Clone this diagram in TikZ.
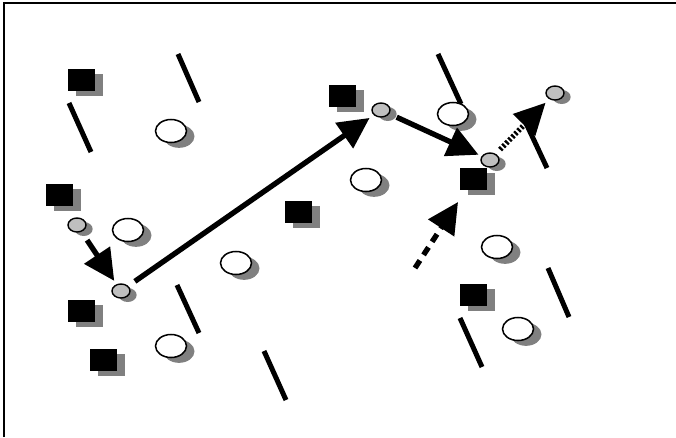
\documentclass[tikz,border=0pt]{standalone}
\usetikzlibrary{shapes.geometric,shadows,arrows.meta}
\begin{document}
\begin{tikzpicture}
		[x=0.03cm,y=-0.03cm,
		block/.style={rectangle,fill=black,inner sep=0pt,minimum width=0.81cm,minimum height=0.66cm,
			general shadow={fill=gray,shadow xshift=0.24cm,shadow yshift=-0.15cm}},
		place/.style={ellipse,draw=black,fill=white,line width=1.3pt,inner sep=0pt,minimum width=0.93cm,minimum height=0.69cm,
			general shadow={fill=gray,shadow xshift=0.24cm,shadow yshift=-0.16cm}},
		token/.style={ellipse,draw=black,fill=gray!50,line width=1.2pt,inner sep=0pt,minimum width=0.54cm,minimum height=0.42cm,
			general shadow={fill=gray,shadow xshift=0.2cm,shadow yshift=-0.12cm}},
		wall/.style={line width=0.15cm},
		move/.style={line width=0.16cm,-{Triangle[length=0.93cm,width=0.9cm]}}]
		\useasboundingbox (0,0) rectangle (676,437);
		\draw [line width=0.06cm] (4,437) -- (4,3) -- (676,3);

		\draw [wall] (178,54) -- (199,102);
		\draw [wall] (69,103) -- (91,152);
		\draw [wall] (438,54) -- (461,104);
		\draw [wall] (525,121) -- (547,168);
		\draw [wall] (177,285) -- (199,333);
		\draw [wall] (264,351) -- (286,400);
		\draw [wall] (548,268) -- (569,317);
		\draw [wall] (460,318) -- (482,367);

		\node [block] (s1) at (81,80) {};
		\node [block] (s2) at (59,195) {};
		\node [block] (s3) at (342,96) {};
		\node [block] (s4) at (298,212) {};
		\node [block] (s5) at (473,179) {};
		\node [block] (s6) at (81,311) {};
		\node [block] (s7) at (103,360) {};
		\node [block] (s8) at (473,295) {};

		\node [place] (o1) at (171,131) {};
		\node [place] (o2) at (128,230) {};
		\node [place] (o3) at (366,180) {};
		\node [place] (o4) at (453,114) {};
		\node [place] (o5) at (236,263) {};
		\node [place] (o6) at (171,346) {};
		\node [place] (o7) at (497,247) {};
		\node [place] (o8) at (518,329) {};

		\node [token] (p1) at (77,225) {};
		\node [token] (p2) at (121,291) {};
		\node [token] (p3) at (381,110) {};
		\node [token] (p4) at (490,160) {};
		\node [token] (p5) at (555,93) {};
		\coordinate (e0) at (415,268);

		\draw [move,shorten <=0.3cm,shorten >=0.12cm] (p1) -- (p2);
		\draw [move,shorten <=0.24cm,shorten >=0.15cm] (p2) -- (p3);
		\draw [move,shorten <=0.24cm,shorten >=0.1cm] (p3) -- (p4);
		\draw [move,dash pattern=on 0.07cm off 0.06cm,shorten <=0.18cm,shorten >=0.15cm] (p4) -- (p5);
		\draw [move,dash pattern=on 0.27cm off 0.2cm,shorten >=0.42cm] (e0) -- (s5);

	\end{tikzpicture}
\end{document}
